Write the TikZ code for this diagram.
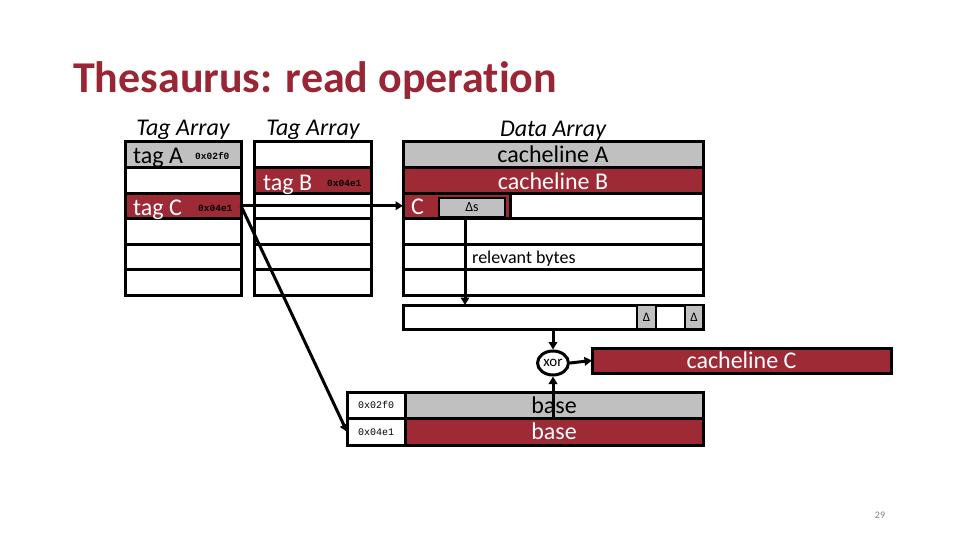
\documentclass[tikz,border=0pt]{standalone}
\usepackage{fontspec}
\setmainfont{Carlito}[Ligatures=NoCommon]
\newfontfamily\hexfont{Liberation Mono}[BoldFont={Liberation Mono Bold}]
\usetikzlibrary{arrows.meta,shapes.geometric,calc}
\definecolor{cred}{RGB}{158,42,54}
\definecolor{tred}{RGB}{152,38,52}
\definecolor{cgray}{RGB}{192,192,192}
\tikzset{
  cell/.style={draw=black,line width=3pt,minimum height=25.5pt,inner sep=0pt,outer sep=0pt,anchor=center},
  tcell/.style={cell,minimum width=116pt},
  dcell/.style={cell,minimum width=300pt},
  redf/.style={fill=cred},
  grayf/.style={fill=cgray},
  lbl/.style={font=\fontsize{24}{28}\selectfont,inner sep=0pt},
  wlbl/.style={lbl,text=white},
  hex/.style={font=\hexfont\bfseries\fontsize{9.5}{11}\selectfont,inner sep=0pt},
  hexr/.style={font=\hexfont\fontsize{10}{12}\selectfont,inner sep=0pt},
  ttl/.style={font=\fontsize{24}{28}\selectfont\itshape,inner sep=0pt},
  arr/.style={line width=3pt,-{Triangle[length=7.5pt,width=8.5pt]}},
  small/.style={draw=black,line width=2pt,fill=cgray,inner sep=0pt,outer sep=0pt}
}
\begin{document}
\begin{tikzpicture}[x=1pt,y=-1pt]
\useasboundingbox[fill=white] (0,0) rectangle (960,540);
% title
\node[anchor=base west,inner sep=0pt,text=tred,font=\fontsize{44}{52}\selectfont\bfseries] (title) at (73,93) {Thesaurus: read operation};
% headers
\node[ttl,anchor=base] (h1) at (183,136) {Tag Array};
\node[ttl,anchor=base] (h2) at (313,136) {Tag Array};
\node[ttl,anchor=base] (h3) at (553,137) {Data Array};
% tag array 1
\node[tcell,grayf] (a1) at (183,154.75) {};
\node[tcell] (a2) at (183,180.25) {};
\node[tcell,redf] (a3) at (183,205.75) {};
\node[tcell] (a4) at (183,231.25) {};
\node[tcell] (a5) at (183,256.75) {};
\node[tcell] (a6) at (183,282.25) {};
\node[lbl,anchor=base west] (tA) at (133,163.5) {tag A};
\node[hex,anchor=base west] (xA) at (195,160) {0x02f0};
\node[wlbl,anchor=base west] (tC) at (133,215) {tag C};
\node[hex,anchor=base west] (xC) at (198,211) {0x04e1};
% tag array 2
\node[tcell,minimum width=117pt] (b1) at (312.5,154.75) {};
\node[tcell,minimum width=117pt,redf] (b2) at (312.5,180.25) {};
\node[tcell,minimum width=117pt] (b3) at (312.5,205.75) {};
\node[tcell,minimum width=117pt] (b4) at (312.5,231.25) {};
\node[tcell,minimum width=117pt] (b5) at (312.5,256.75) {};
\node[tcell,minimum width=117pt] (b6) at (312.5,282.25) {};
\node[wlbl,anchor=base west] (tB) at (263,190) {tag B};
\node[hex,anchor=base west] (xB) at (327,186) {0x04e1};
% data array
\node[dcell,grayf] (d1) at (553,154.75) {};
\node[dcell,redf] (d2) at (553,180.25) {};
\node[dcell] (d3) at (553,205.75) {};
\node[cell,redf,minimum width=107pt] (d3c) at (456.5,205.75) {};
\node[dcell] (d4) at (553,231.25) {};
\node[dcell] (d5) at (553,256.75) {};
\node[dcell] (d6) at (553,282.25) {};
\node[lbl,anchor=base] (cA) at (553,163) {cacheline A};
\node[wlbl,anchor=base] (cB) at (553,189.5) {cacheline B};
\node[wlbl,anchor=base west] (cC3) at (411,214) {C};
\node[small,minimum width=66pt,minimum height=19pt,font=\fontsize{14}{16}\selectfont] (ds) at (472,207.5) {Δs};
\node[inner sep=0pt,anchor=base west,font=\fontsize{18}{21}\selectfont] (rb) at (472,263) {relevant bytes};
% delta row
\node[cell,minimum width=300pt,minimum height=24pt] (dr) at (553,317) {};
\node[small,minimum width=19pt,minimum height=24pt,font=\fontsize{13}{15}\selectfont] (dl1) at (646.5,317) {Δ};
\node[small,minimum width=18pt,minimum height=24pt,font=\fontsize{13}{15}\selectfont] (dl2) at (694,317) {Δ};
% xor
\node[ellipse,draw=black,line width=3pt,fill=white,minimum width=31pt,minimum height=24pt,inner sep=0pt,font=\fontsize{15}{17}\selectfont] (xor) at (553,363) {xor};
% cacheline C
\node[cell,redf,minimum width=299pt,minimum height=25pt] (clC) at (741.5,360.5) {};
\node[wlbl] (clCt) at (741.5,360.5) {cacheline C};
% base table
\node[cell,minimum width=58pt,minimum height=26.5pt,hexr] (i1) at (376,405.25) {0x02f0};
\node[cell,minimum width=58pt,minimum height=26.5pt,hexr] (i2) at (376,431.75) {0x04e1};
\node[cell,grayf,minimum width=298pt,minimum height=26.5pt,lbl] (s1) at (554,405.25) {base};
\node[cell,redf,minimum width=298pt,minimum height=26.5pt,wlbl] (s2) at (554,431.75) {base};
% arrows
\draw[arr] (a3.east) -- (d3.west);
\draw[arr] (a3.east) -- (i2.west);
\coordinate (dsx) at ([xshift=-7pt]ds.south);
\draw[arr] (dsx) -- (dsx |- dr.north);
\draw[arr] (dr.south -| xor.north) -- (xor.north);
\draw[arr] (xor.east) -- (clC.west);
\draw[arr] (s1.south -| xor.south) -- (xor.south);
% page number
\node[inner sep=0pt,text=gray,font=\fontsize{10}{12}\selectfont] (pg) at (880,515) {29};
\end{tikzpicture}
\end{document}
